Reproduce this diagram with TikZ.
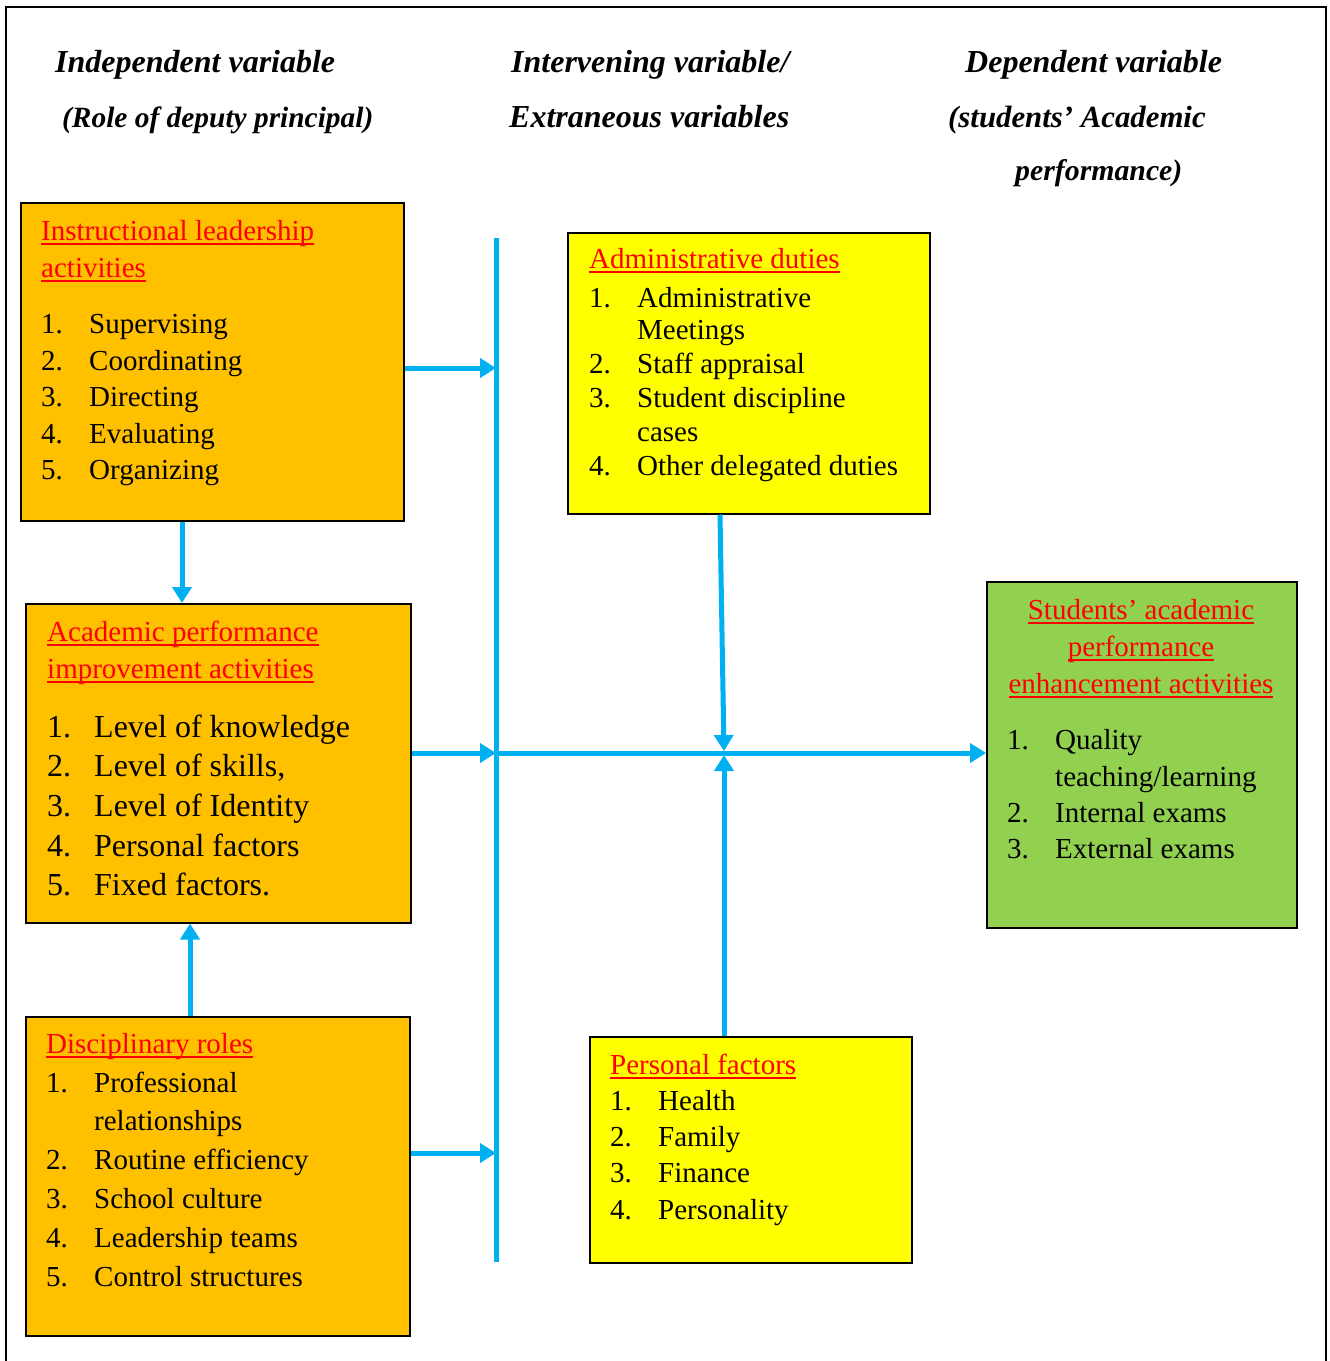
\documentclass[tikz,border=0pt]{standalone}
\usepackage{fontspec}
\setmainfont{Liberation Serif}
\usetikzlibrary{arrows.meta}
\definecolor{arrowblue}{HTML}{00B0F0}
\definecolor{boxorange}{HTML}{FFC000}
\definecolor{boxyellow}{HTML}{FFFF00}
\definecolor{boxgreen}{HTML}{92D050}
\definecolor{titlered}{HTML}{FF0000}
\newcommand\ultext[1]{\setbox0\hbox{#1}\rlap{\color{titlered}\rule[-4.5pt]{\wd0}{1.8pt}}\box0}
\newcommand\lstitem[6]{\node[txt] (#1n) at (#2,#4) {#5};\node[txt] (#1t) at (#3,#4) {#6};}
\begin{document}
\begin{tikzpicture}[x=1pt,y=-1pt,
  txt/.style={anchor=base west,inner sep=0pt,font=\fontsize{29}{34}\selectfont},
  bigtxt/.style={txt,font=\fontsize{32}{38}\selectfont},
  ttl/.style={txt,text=titlered},
  hdr/.style={anchor=base west,inner sep=0pt,font=\fontsize{32}{38}\selectfont\bfseries\itshape},
  subhdr/.style={hdr,font=\fontsize{#1}{36}\selectfont\bfseries\itshape},
  box/.style={draw=black,line width=1.5pt,anchor=north west,inner sep=0pt},
  arr/.style={draw=arrowblue,line width=5pt,-{Triangle[length=16pt,width=19pt]}},
  blueline/.style={draw=arrowblue,line width=5pt}]
\useasboundingbox (0,0) rectangle (1330,1361);
\draw[line width=2pt] (6,7) rectangle (1326,1390);

% headers
\node[hdr] (h1a) at (55,72) {Independent variable};
\node[subhdr=29.4] (h1b) at (62,127) {(Role of deputy principal)};
\node[hdr] (h2a) at (511,72) {Intervening variable/};
\node[hdr] (h2b) at (509,127) {Extraneous variables};
\node[hdr] (h3a) at (965,72) {Dependent variable};
\node[subhdr=30.8] (h3b) at (948,127) {(students’ Academic};
\node[subhdr=29.8] (h3c) at (1015,180) {performance)};

% boxes
\node[box,fill=boxorange,minimum width=383pt,minimum height=318pt] (instr) at (20,202) {};
\node[box,fill=boxorange,minimum width=385pt,minimum height=319pt] (acad) at (25,603) {};
\node[box,fill=boxorange,minimum width=384pt,minimum height=319pt] (disc) at (25,1016) {};
\node[box,fill=boxyellow,minimum width=362pt,minimum height=281pt] (admin) at (567,232) {};
\node[box,fill=boxyellow,minimum width=322pt,minimum height=226pt] (pers) at (589,1036) {};
\node[box,fill=boxgreen,minimum width=310pt,minimum height=346pt] (stud) at (986,581) {};

% instructional box text
\node[ttl] (it1) at (41,240) {\ultext{Instructional leadership}};
\node[ttl] (it2) at (41,277) {\ultext{activities}};
\lstitem{ia}{41}{89}{333}{1.}{Supervising}
\lstitem{ib}{41}{89}{370}{2.}{Coordinating}
\lstitem{ic}{41}{89}{406}{3.}{Directing}
\lstitem{id}{41}{89}{443}{4.}{Evaluating}
\lstitem{ie}{41}{89}{479}{5.}{Organizing}

% academic box text
\node[ttl] (at1) at (47,641) {\ultext{Academic performance}};
\node[ttl] (at2) at (47,678) {\ultext{improvement activities}};
\node[bigtxt] (aan) at (47,737) {1.};\node[bigtxt] (aat) at (94,737) {Level of knowledge};
\node[bigtxt] (abn) at (47,776) {2.};\node[bigtxt] (abt) at (94,776) {Level of skills,};
\node[bigtxt] (acn) at (47,816) {3.};\node[bigtxt] (act) at (94,816) {Level of Identity};
\node[bigtxt] (adn) at (47,856) {4.};\node[bigtxt] (adt) at (94,856) {Personal factors};
\node[bigtxt] (aen) at (47,895) {5.};\node[bigtxt] (aet) at (94,895) {Fixed factors.};

% disciplinary box text
\node[ttl] (dt1) at (46,1053) {\ultext{Disciplinary roles}};
\lstitem{da}{46}{94}{1092}{1.}{Professional}
\node[txt] (dat2) at (94,1130) {relationships};
\lstitem{db}{46}{94}{1169}{2.}{Routine efficiency}
\lstitem{dc}{46}{94}{1208}{3.}{School culture}
\lstitem{dd}{46}{94}{1247}{4.}{Leadership teams}
\lstitem{de}{46}{94}{1286}{5.}{Control structures}

% administrative box text
\node[ttl] (mt1) at (589,268) {\ultext{Administrative duties}};
\lstitem{ma}{589}{637}{307}{1.}{Administrative}
\node[txt] (mat2) at (637,339) {Meetings};
\lstitem{mb}{589}{637}{373}{2.}{Staff appraisal}
\lstitem{mc}{589}{637}{407}{3.}{Student discipline}
\node[txt] (mct2) at (637,441) {cases};
\lstitem{md}{589}{637}{475}{4.}{Other delegated duties}

% personal factors text
\node[ttl] (pt1) at (610,1074) {\ultext{Personal factors}};
\lstitem{pa}{610}{658}{1110}{1.}{Health}
\lstitem{pb}{610}{658}{1146}{2.}{Family}
\lstitem{pc}{610}{658}{1182}{3.}{Finance}
\lstitem{pd}{610}{658}{1219}{4.}{Personality}

% students box text
\node[ttl,anchor=base] (st1) at (1141,619) {\ultext{Students’ academic}};
\node[ttl,anchor=base] (st2) at (1141,656) {\ultext{performance}};
\node[ttl,anchor=base] (st3) at (1141,693) {\ultext{enhancement activities}};
\lstitem{sa}{1007}{1055}{749}{1.}{Quality}
\node[txt] (sat2) at (1055,786) {teaching/learning};
\lstitem{sb}{1007}{1055}{822}{2.}{Internal exams}
\lstitem{sc}{1007}{1055}{858}{3.}{External exams}

% connectors
\coordinate (vtop) at (496,238);
\coordinate (vbot) at (496,1262);
\coordinate (j1) at (496,368);
\coordinate (hy) at (496,753);
\coordinate (j3) at (496,1153);
\coordinate (c1) at (182,0);
\coordinate (c2) at (190,0);
\coordinate (c3) at (720,0);
\coordinate (c4) at (724,0);
\coordinate (hitA) at (724,751);
\coordinate (hitB) at (724,755);
\draw[blueline] (vtop) -- (vbot);
\draw[arr] (instr.east |- j1) -- (j1);
\draw[arr] (acad.east |- hy) -- (hy);
\draw[arr] (disc.east |- j3) -- (j3);
\draw[arr] (hy) -- (stud.west |- hy);
\draw[arr] (instr.south -| c1) -- (acad.north -| c1);
\draw[arr] (disc.north -| c2) -- (acad.south -| c2);
\draw[arr] (admin.south -| c3) -- (hitA);
\draw[arr] (pers.north -| c4) -- (hitB);
\end{tikzpicture}
\end{document}
